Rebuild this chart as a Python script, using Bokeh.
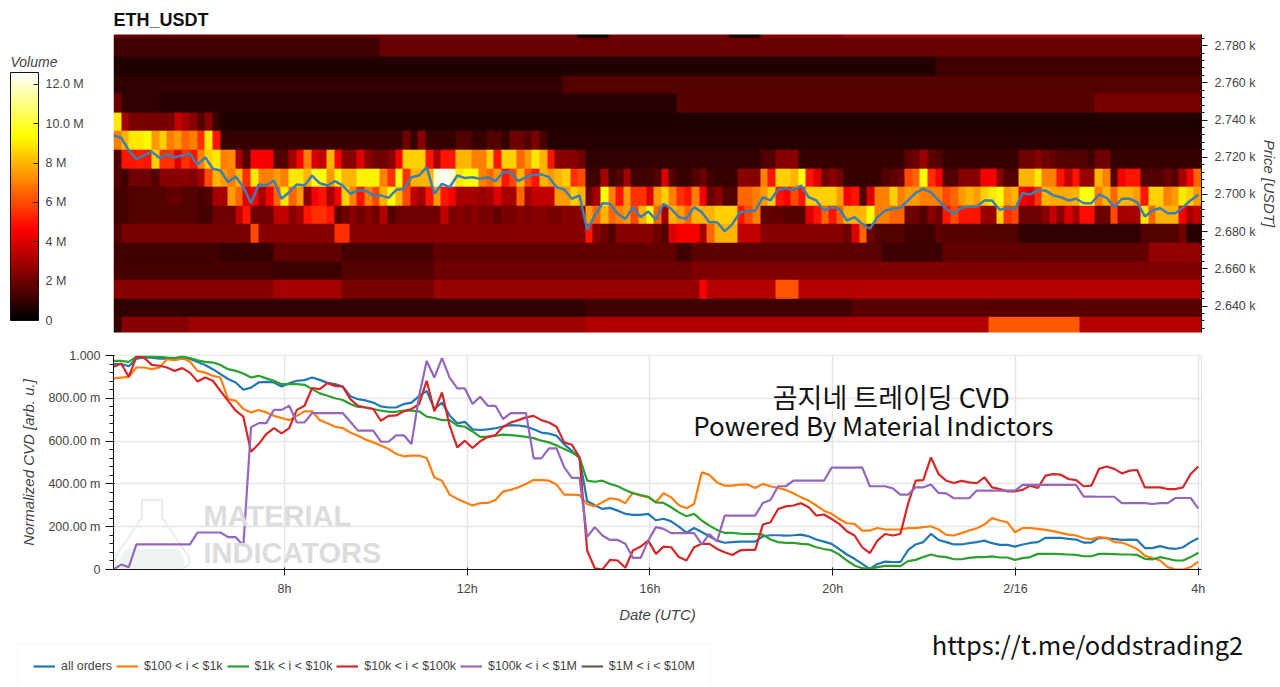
import numpy as np
from bokeh.embed import file_html
from bokeh.resources import INLINE
from bokeh.layouts import column, row
from bokeh.models import (ColorBar, FixedTicker, Label, Legend, LegendItem,
                          LinearColorMapper, Range1d)
from bokeh.plotting import figure

SANS = "Liberation Sans"
GREY = "#444444"

# ---- heatmap: volume in millions, one list per 10-USDT price row, one value per time column
R0 = [1.0] + [2.5]*9 + [2.9]*52 + [3.2]*53 + [6.3]*12 + [3.3]*16
R1 = [0.9]*62 + [1.2]*35 + [1.6]*46
R2 = [2.5]*21 + [3.0]*9 + [2.2]*12 + [2.8]*35 + [4.5] + [3.3]*9 + [6.2]*3 + [3.3]*53
R3 = [1.3]*21 + [1.1]*9 + [1.5]*12 + [2.0]*34 + [2.3]*67
R4 = [1.2]*14 + [1.0]*7 + [1.8]*9 + [1.3]*12 + [1.8]*32 + [1.2]*2 + [1.7]*25 + [1.1]*8 + [1.8]*27 + [2.7]*7
R5 = ([1.5] + [2.2]*17 + [6] + [2.5]*10 + [5.5]*2 + [2.5]*11 + [2.5]*20
      + [5, 2.5, 2, 1.5] + [2.5]*5 + [2, 1.5, 4] + [4.5]*3 + [3, 6.5, 8, 8, 8] + [3.5]*3 + [2.5]*9 + [2.5]*2
      + [2, 4, 6.5, 2] + [1.5]*4 + [1.2]*4 + [1.8] + [1.6]*5 + [1.5]*5 + [0.9]*16 + [1.5]*5 + [2, 0.7, 0.7])
R6 = [1.3, 1.3, 1.5, 1.5, 1.5, 1.5, 1.5, 1.5, 1.5, 1.5, 1.5, 1.3, 1.3, 2, 2, 2,
      3.5, 5, 2, 2, 2, 3.5, 3.5, 2.5, 3, 5, 5.5, 5.5, 5, 1.5, 2, 2.5, 2, 2.5, 2, 3.2, 1.5, 2, 2, 2, 2, 2,
      2, 3.5, 2.2, 2.5, 2.2, 2.5, 2.2, 2.2, 1.8, 2.2, 2.2, 2.5, 2.2, 2.5, 2.5, 2.2, 2.2, 2.5, 2.5, 2.5,
      7.5, 6.5, 8, 6.5, 7, 7.5, 6, 8, 9.5, 6.5, 3, 8, 7.5, 6.5, 8, 8, 8, 8.5, 8.5, 8.5, 5, 6, 7,
      1.8, 1.8, 1.8, 1.5, 1.5, 1.5, 4, 5, 6.5, 5, 6.5, 8,
      8, 8, 9.5, 7, 7, 6.5, 6.5, 2, 2, 1.5, 2.5, 2, 5, 6, 5, 5, 5, 2.8, 2.8, 8.5, 5.5, 6,
      2, 2, 2, 2.5, 3.5, 2.5, 4, 3, 4.8, 4.8, 2, 2, 6, 3, 3, 3, 9, 6.5, 8, 8, 8, 4.5, 3, 3.5]
R7 = [1.3, 1.3, 1.5, 1.5, 1.5, 1.5, 1.5, 1.8, 1.8, 1.5, 1.5, 1.3, 1.5,
      3, 3, 7.5, 6.5, 4, 4.5, 3, 4.5, 6.5, 9, 6.5, 7.5, 2.5, 4.5, 5, 3, 4.5, 8.5, 7, 5, 7, 6, 8, 9.5, 8, 6, 3.5, 3, 5,
      7.5, 5, 4.5, 3, 3, 3, 2.8, 3, 4, 3, 3, 6.5, 3, 3.5, 3.5, 3.5, 7.5, 7.5, 8.5, 8,
      2, 3, 9.5, 7, 5, 7.5, 5.5, 5.5, 4, 7.5, 8.5, 7, 5.5, 5, 7, 4.5, 2, 2.5, 1.5, 1.5, 6.5, 6.5, 7, 7.5, 8.5,
      5, 4.5, 6, 5, 8.5, 8.5, 8.5, 8.5, 7.5, 4.5,
      5, 1.5, 4, 7, 7, 8.5, 7, 7.5, 7.5, 7, 7, 7, 6, 6.5, 7.5, 8, 7.5, 8.5, 9, 9.5, 7.5, 8,
      4.5, 4, 5.5, 8, 7.8, 7.8, 7.8, 8, 9.6, 9.6, 7, 8, 6.5, 8, 8, 7.5, 5, 8.5, 8.5, 7, 7.5, 9, 8.5, 7.5]
R8 = [1.5, 1.2, 2, 2, 2, 1.5, 2.5, 2.5, 2.5, 2.5, 2.3, 3, 6, 8, 7.5, 7, 8, 5.5, 9, 7, 7, 7.5, 7, 9, 9, 8,
      9.8, 9.5, 7.5, 9.2, 8, 8, 9.2, 9.2, 9.2, 7, 5.5, 9.5, 5.5, 8, 8, 8,
      12, 12.5, 12, 9, 9.5, 9.5, 7, 6.5, 7.5, 5, 6, 8, 6, 5, 8, 7.5, 8, 8.5, 5.5, 6,
      1.2, 1.2, 3, 1.2, 1.5, 3, 1.2, 1.2, 1.2, 1.5, 4, 1.5, 1, 1, 1.5, 2, 1.2, 1, 1, 1,
      2.5, 2.5, 2.5, 7, 5, 8.5, 8.5, 8, 9.5, 5, 4, 2, 2.5, 2, 1, 1, 1, 1, 1, 1.5, 1.8, 2,
      6, 6.5, 9.5, 5.5, 4.5, 1.5, 1.5, 2.5, 2.5, 2.5, 4.5, 4.5, 2.5, 1.5, 1.5,
      8, 8, 9, 7, 7, 5, 3.5, 5, 2.8, 2.8, 8, 7, 1.5, 4.5, 5, 5, 1.5, 1.5, 1.5, 2, 1.5, 3, 4.5, 6.5]
R9 = [1.5, 5, 5, 5.2, 5, 8.5, 5.5, 5.5, 4, 5.5, 5, 7, 8.5, 9, 7, 7.2, 3, 1.5, 4.5, 4.5, 4.5, 1.5, 1.5, 3, 4.5,
      7, 4, 3.5, 8, 4.5, 2.5, 2.5, 4, 2.5, 2, 2, 2.5, 4.5, 8.5, 8.5, 8.5, 5,
      3, 5, 5, 8, 8, 7, 7, 8.5, 5, 8.5, 8.5, 6.5, 7.5, 9, 8, 5, 2.5, 2.5, 2.5, 2]\
   + [0.9]*23 + [1.5]*2 + [2.5]*3 + [1.0]*14 + [1.8, 2, 2.8, 1.8, 1.5] + [1.0]*10 \
   + [2, 2, 2.5, 2, 1.8] + [1.5]*4 + [1.2, 2, 2] + [1.0]*12
R10 = [7, 8, 9, 9, 9.3, 7.5, 8.5, 7, 7.5, 6.5, 7, 5.5, 9, 5] + [1.0]*24 + [2, 1, 2.5, 1, 1, 1, 1,
       1.5, 1.5, 1, 1, 1.5, 1.5, 1, 2, 2, 1.5, 2.2, 1.3] + [0.7]*86
R11 = [9, 3] + [2.2]*6 + [3.5, 3, 2.5, 1.5, 2.5, 1] + [0.6]*129
R12 = [2] + [0.9]*5 + [0.7]*68 + [1.6]*55 + [2.2]*14
R13 = [0.9]*59 + [1.5]*84
R14 = [0.6]*108 + [1.2]*35
R15 = [1.2]*35 + [1.9]*108
R16 = [2.0]*61 + [0.3]*4 + [2.0]*16 + [0.5]*4 + [2.5]*11 + [3.0]*47

volume_rows = [R0, R1, R2, R3, R4, R5, R6, R7, R8, R9, R10, R11, R12, R13, R14, R15, R16]

# ---- price line, one value per time sample
price = [2731.7, 2730.5, 2723.7, 2719, 2721, 2723, 2719.7, 2721.5, 2720, 2721, 2721.9, 2716, 2720, 2713.8, 2712.9,
         2706.6, 2709.7, 2703.9, 2695.3, 2705.4, 2704.8, 2707.5, 2697.7, 2701.2, 2705.4, 2704.8, 2710.2, 2706, 2704.8,
         2707.2, 2704.8, 2700.4, 2702.2, 2702.2, 2699.5, 2699.5, 2698.2, 2702.5, 2703, 2709.3, 2710.2, 2714.7,
         2700.4, 2705.7, 2703.9, 2710.2, 2708.8, 2709.3, 2708.4, 2709.3, 2707.2, 2712, 2712, 2707.2, 2709.3, 2710.6,
         2710.8, 2709.3, 2703.9, 2702.7, 2697.7, 2699.5, 2681, 2688.7, 2695.3, 2695, 2689.6, 2686.9, 2693.2, 2687.8,
         2690.9, 2686.4, 2695, 2692.3, 2687.8, 2686.9, 2693.2, 2690.5, 2685.1, 2685.1, 2680.3, 2683.9, 2690.5, 2691,
         2691.4, 2698.5, 2696.8, 2702.7, 2703.4, 2702.2, 2704.8, 2698.5, 2696.8, 2691.4, 2693.2, 2692.3, 2686, 2687.8,
         2684.2, 2681.6, 2687.8, 2691.4, 2692.3, 2692.8, 2696.8, 2700.9, 2703, 2701.2, 2696.8, 2692.3, 2689.6, 2692.8,
         2693.5, 2693.5, 2696.8, 2696.8, 2691.8, 2692.8, 2692.3, 2700.7, 2700, 2702.2, 2702.2, 2699.5, 2698.5, 2696.8,
         2697.7, 2695.3, 2695.3, 2700, 2698.2, 2693.2, 2697.7, 2697.7, 2695.9, 2688.2, 2691.4, 2692.6, 2689.9, 2689.9,
         2693.2, 2696.8, 2699.8]

# ---- normalized CVD series, one value per time sample
cvd_all = [.96, .96, .95, .985, .99, .99, .985, .985, .98, .985, .985, .97, .956, .936, .913, .89, .874, .84, .85, .874,
           .877, .874, .855, .87, .882, .885, .897, .886, .872, .866, .855, .81, .796, .79, .78, .762, .757, .757, .773,
           .78, .81, .835, .75, .78, .72, .683, .69, .655, .652, .655, .66, .668, .675, .673, .668, .655, .64, .635, .625,
           .585, .555, .52, .32, .30, .283, .288, .275, .26, .255, .255, .26, .23, .237, .225, .20, .172, .194, .175, .155,
           .135, .125, .128, .13, .13, .13, .155, .16, .16, .158, .16, .163, .155, .14, .13, .12, .095, .07, .05,
           .026, .003, .026, .037, .035, .034, .09, .117, .128, .166, .138, .128, .117, .117, .123, .128, .135, .123, .115,
           .115, .107, .117, .124, .128, .148, .148, .148, .143, .14, .126, .126, .148, .146, .142, .138, .14, .138, .10,
           .10, .109, .10, .096, .104, .128, .146]
cvd_100_1k = [.893, .897, .90, .944, .944, .936, .944, .983, .978, .988, .972, .928, .92, .905, .897, .796, .788, .75, .734,
              .745, .734, .718, .708, .698, .718, .739, .739, .698, .683, .667, .661, .64, .625, .607, .594, .579, .563,
              .54, .529, .532, .532, .521, .43, .415, .35, .33, .314, .299, .31, .311, .325, .364, .373, .384, .40, .418,
              .418, .415, .397, .35, .35, .348, .306, .295, .314, .333, .328, .31, .36, .345, .337, .314, .356, .337, .30,
              .286, .306, .454, .442, .407, .392, .392, .397, .397, .381, .40, .389, .381, .372, .356, .337, .322, .299,
              .275, .26, .236, .216, .213, .182, .182, .194, .187, .187, .187, .193, .193, .198, .202, .187, .162, .159,
              .17, .182, .193, .21, .24, .229, .221, .174, .194, .194, .19, .185, .179, .171, .163, .159, .146, .142, .151,
              .148, .128, .126, .112, .096, .065, .054, .042, .011, 0, 0, .011, .037]
cvd_1k_10k = [.975, .975, .97, .994, .995, .995, .994, .99, .988, .995, .988, .978, .97, .967, .956, .936, .928, .916, .897,
              .905, .893, .882, .866, .866, .866, .863, .843, .823, .812, .80, .792, .773, .76, .757, .75, .742, .737, .737,
              .742, .742, .739, .714, .708, .698, .698, .672, .667, .645, .62, .62, .625, .63, .628, .624, .62, .614, .602,
              .594, .579, .563, .547, .524, .415, .41, .415, .40, .389, .372, .356, .348, .34, .314, .311, .291, .267, .249,
              .26, .229, .205, .185, .171, .171, .168, .166, .166, .163, .14, .128, .124, .124, .12, .117, .104, .096, .089,
              .07, .042, .019, .006, .002, .011, .017, .017, .016, .039, .045, .058, .07, .061, .058, .048, .048, .054, .058,
              .058, .061, .056, .056, .045, .053, .058, .073, .073, .073, .072, .07, .068, .062, .062, .073, .073, .072, .07,
              .07, .068, .05, .047, .058, .05, .042, .042, .058, .078]
cvd_10k_100k = [.947, .963, .90, .995, .99, .956, .952, .944, .928, .941, .92, .879, .897, .882, .835, .788, .742, .714, .55,
                .586, .633, .661, .636, .661, .746, .765, .848, .843, .871, .858, .855, .796, .765, .757, .75, .695, .718,
                .72, .739, .75, .773, .882, .739, .827, .672, .571, .602, .568, .599, .62, .628, .667, .687, .698, .711,
                .718, .698, .687, .667, .594, .583, .524, .089, .006, 0, .045, .042, .008, .089, .107, .135, .073, .107,
                .104, .058, .042, .104, .12, .12, .096, .081, .068, .089, .092, .092, .21, .221, .283, .295, .299, .31,
                .291, .252, .257, .236, .213, .179, .159, .104, .076, .135, .166, .159, .166, .306, .415, .418, .524, .446,
                .415, .404, .414, .407, .403, .431, .384, .376, .365, .365, .372, .392, .381, .439, .446, .443, .423, .418,
                .389, .392, .47, .481, .47, .449, .462, .465, .384, .384, .384, .376, .376, .384, .446, .481]
cvd_100k_1m = [0, .023, .011, .117, .117, .117, .117, .117, .117, .117, .117, .173, .173, .173, .173, .151, .151, .112, .664,
               .684, .684, .746, .746, .765, .687, .687, .731, .731, .731, .731, .731, .69, .649, .649, .649, .597, .597,
               .627, .627, .586, .81, .975, .897, .988, .897, .846, .846, .773, .807, .765, .765, .703, .731, .731, .731,
               .519, .519, .566, .566, .477, .428, .428, .151, .198, .159, .138, .138, .12, .054, .054, .135, .198, .19,
               .17, .17, .17, .17, .117, .166, .131, .252, .252, .252, .252, .252, .311, .325, .389, .389, .415, .415, .415,
               .415, .415, .476, .476, .476, .476, .477, .389, .389, .389, .379, .35, .35, .384, .384, .397, .358, .356,
               .333, .333, .333, .369, .369, .369, .369, .369, .369, .395, .395, .395, .395, .395, .395, .395, .395, .341,
               .341, .34, .34, .34, .31, .31, .31, .31, .306, .31, .31, .334, .334, .334, .286]

series_names = ["all orders", "$100 < i < $1k", "$1k < i < $10k", "$10k < i < $100k",
                "$100k < i < $1M", "$1M < i < $10M"]
series_colors = ["#1f77b4", "#ff7f0e", "#2ca02c", "#d62728", "#9467bd", "#6b5a55"]

price_ticks = [2640, 2660, 2680, 2700, 2720, 2740, 2760, 2780]
price_labels = ["2.640 k", "2.660 k", "2.680 k", "2.700 k", "2.720 k", "2.740 k", "2.760 k", "2.780 k"]
cvd_ticks = [0, 0.2, 0.4, 0.6, 0.8, 1.0]
cvd_labels = ["0", "200.00 m", "400.00 m", "600.00 m", "800.00 m", "1.000"]
hour_ticks = [8, 12, 16, 20, 24, 28]
hour_labels = ["8h", "12h", "16h", "20h", "2/16", "4h"]
volume_ticks = [0, 2, 4, 6, 8, 10, 12]
volume_labels = ["0", "2 M", "4 M", "6 M", "8 M", "10.0 M", "12.0 M"]

for r in volume_rows:
    assert len(r) == 143, len(r)
for s in (price, cvd_all, cvd_100_1k, cvd_1k_10k, cvd_10k_100k, cvd_100k_1m):
    assert len(s) == 143, len(s)

T_START, T_END, T_AXIS_END = 4.26, 28.0, 28.07
times = np.linspace(T_START, T_END, 143)
volume = np.array(volume_rows, dtype=float)
PRICE_LOW, PRICE_HIGH = 2625.8, 2786.0

# matplotlib "hot" colour scale
hot = []
for i in range(256):
    f = i / 255
    r_ = min(1, f / 0.365)
    g_ = min(1, max(0, (f - 0.365) / 0.381))
    b_ = min(1, max(0, (f - 0.746) / 0.254))
    hot.append("#%02x%02x%02x" % (int(r_ * 255), int(g_ * 255), int(b_ * 255)))
mapper = LinearColorMapper(palette=hot, low=0, high=12.6)

def style_axis(ax):
    ax.major_label_text_font = SANS
    ax.major_label_text_font_size = "12.5px"
    ax.major_label_text_color = GREY
    ax.axis_label_text_font = SANS
    ax.axis_label_text_font_size = "15px"
    ax.axis_label_text_font_style = "italic"
    ax.axis_label_text_color = GREY
    ax.axis_line_color = "#111111"
    ax.major_tick_line_color = "#111111"
    ax.minor_tick_line_color = "#111111"

# ---- colour bar strip left of the heatmap
pcb = figure(width=113, height=340, output_backend="svg", toolbar_location=None,
             x_range=Range1d(0, 113), y_range=Range1d(0, 340), x_axis_location=None, y_axis_location=None,
             min_border=0, outline_line_color=None)
pcb.grid.visible = False
pcb.frame_align = False
bar = ColorBar(color_mapper=mapper, location=(10, 20), width=28, height=248, padding=0,
               ticker=FixedTicker(ticks=volume_ticks), major_label_overrides=dict(zip(volume_ticks, volume_labels)),
               major_label_text_font=SANS, major_label_text_font_size="12.5px", major_label_text_color=GREY,
               bar_line_color="#111111", major_tick_line_color="#111111", major_tick_in=5, major_tick_out=0,
               minor_tick_line_color=None, label_standoff=7, background_fill_color=None, border_line_color=None)
pcb.add_layout(bar, "center")
pcb.add_layout(Label(x=10, y=279, text="Volume", text_font=SANS, text_font_size="14px", text_font_style="italic",
                     text_color=GREY, text_baseline="middle"))

# ---- top figure
p1 = figure(width=1167, height=340, output_backend="svg", toolbar_location=None,
            x_range=Range1d(T_START, T_AXIS_END), y_range=Range1d(PRICE_LOW, PRICE_HIGH),
            y_axis_location="right", min_border_left=0, min_border_right=79,
            min_border_top=34, min_border_bottom=8, title="ETH_USDT")
p1.frame_align = False
p1.title.text_font = SANS
p1.title.text_font_size = "18px"
p1.title.text_font_style = "bold"
p1.title.text_color = "#111111"
p1.title.offset = 0
p1.title.standoff = 10
p1.xaxis.visible = False
p1.grid.visible = False
p1.outline_line_color = None
p1.image(image=[volume], x=T_START, y=2624, dw=T_AXIS_END - T_START, dh=170, color_mapper=mapper)
p1.line(times, price, line_color="#3f7fb0", line_width=2.5)
ax = p1.yaxis[0]
style_axis(ax)
ax.ticker = FixedTicker(ticks=price_ticks, minor_ticks=list(range(2628, 2786, 4)))
ax.major_label_overrides = dict(zip(price_ticks, price_labels))
ax.axis_label = "Price [USDT]"
ax.axis_label_standoff = 2
ax.major_label_standoff = 7
ax.major_tick_in, ax.major_tick_out = 0, 6
ax.minor_tick_in, ax.minor_tick_out = 0, 3

# ---- bottom figure
p2 = figure(width=1280, height=285, output_backend="svg", toolbar_location=None,
            x_range=Range1d(T_START, T_AXIS_END), y_range=Range1d(0, 1),
            min_border_left=113, min_border_right=79, min_border_top=15, min_border_bottom=56)
p2.frame_align = False
p2.outline_line_color = "#e5e5e5"
p2.grid.grid_line_color = "#e5e5e5"
p2.grid.grid_line_width = 1.5
p2.xgrid.ticker = FixedTicker(ticks=hour_ticks)
p2.ygrid.ticker = FixedTicker(ticks=cvd_ticks)

# watermark
p2.patch([4.52, 5.69, 5.83, 5.75, 4.42, 4.34], [.096, .096, .03, .005, .005, .03],
         fill_color="#eef3f3", line_color=None)
p2.line([4.885, 5.32, 5.32, 5.91, 5.91, 5.7, 4.5, 4.30, 4.30, 4.885, 4.885],
        [.325, .325, .244, .058, .02, 0, 0, .02, .058, .244, .325], line_color="#ebebeb", line_width=2)
for txt, vy in (("MATERIAL", .248), ("INDICATORS", .079)):
    p2.add_layout(Label(x=6.23, y=vy, text=txt, text_font=SANS, text_font_size="29px",
                        text_font_style="bold", text_color="#dcdcdc", text_baseline="middle"))

for vals, col in zip((cvd_all, cvd_100_1k, cvd_1k_10k, cvd_10k_100k, cvd_100k_1m), series_colors):
    p2.line(times, vals, line_color=col, line_width=2.2)

ax = p2.xaxis[0]
style_axis(ax)
ax.ticker = FixedTicker(ticks=hour_ticks)
ax.major_label_overrides = dict(zip(hour_ticks, hour_labels))
ax.axis_label = "Date (UTC)"
ax.axis_label_standoff = 7
ax.major_label_standoff = 6
ax.major_tick_in, ax.major_tick_out = 2, 6
ax = p2.yaxis[0]
style_axis(ax)
ax.ticker = FixedTicker(ticks=cvd_ticks, minor_ticks=[i * 0.04 for i in range(26)])
ax.major_label_overrides = dict(zip(cvd_ticks, cvd_labels))
ax.axis_label = "Normalized CVD [arb. u.]"
ax.axis_label_standoff = 8
ax.major_tick_in, ax.major_tick_out = 1, 8
ax.minor_tick_in, ax.minor_tick_out = 0, 4

CJK = "Noto Sans CJK KR"
p2.add_layout(Label(x=8 + (891 - 284) / 45.7, y=(569 - 396) / 214, text="곰지네 트레이딩 CVD", text_font=CJK,
                    text_font_size="27px", text_color="#111111", text_align="center", text_baseline="middle"))
p2.add_layout(Label(x=8 + (873 - 284) / 45.7, y=(569 - 424) / 214, text="Powered By Material Indictors", text_font=CJK,
                    text_font_size="26px", text_color="#111111", text_align="center", text_baseline="middle"))

# ---- legend strip and link under the chart
p3 = figure(width=1280, height=62, output_backend="svg", toolbar_location=None,
            x_range=Range1d(0, 1280), y_range=Range1d(0, 62), x_axis_location=None, y_axis_location=None,
            min_border=0, outline_line_color=None)
p3.frame_align = False
p3.grid.visible = False
legend_lines = [p3.line([-20, -10], [-20, -20], line_color=c, line_width=2.2) for c in series_colors]
legend = Legend(items=[LegendItem(label=n, renderers=[r]) for n, r in zip(series_names, legend_lines)],
                orientation="horizontal", location=(17, -2), label_text_font=SANS,
                label_text_font_size="12.4px", label_text_color=GREY, glyph_width=22, glyph_height=14,
                label_standoff=6, spacing=4, padding=15, margin=0, border_line_color="#eeeeee",
                background_fill_color="white", label_height=14)
p3.add_layout(legend, "center")
p3.add_layout(Label(x=1087, y=44, text="https://t.me/oddstrading2", text_font=CJK,
                    text_font_size="25.5px", text_color="#111111", text_align="center", text_baseline="middle"))

page = column(row(pcb, p1, spacing=0), p2, p3, spacing=0)
open("out.html", "w").write(file_html(page, INLINE))
